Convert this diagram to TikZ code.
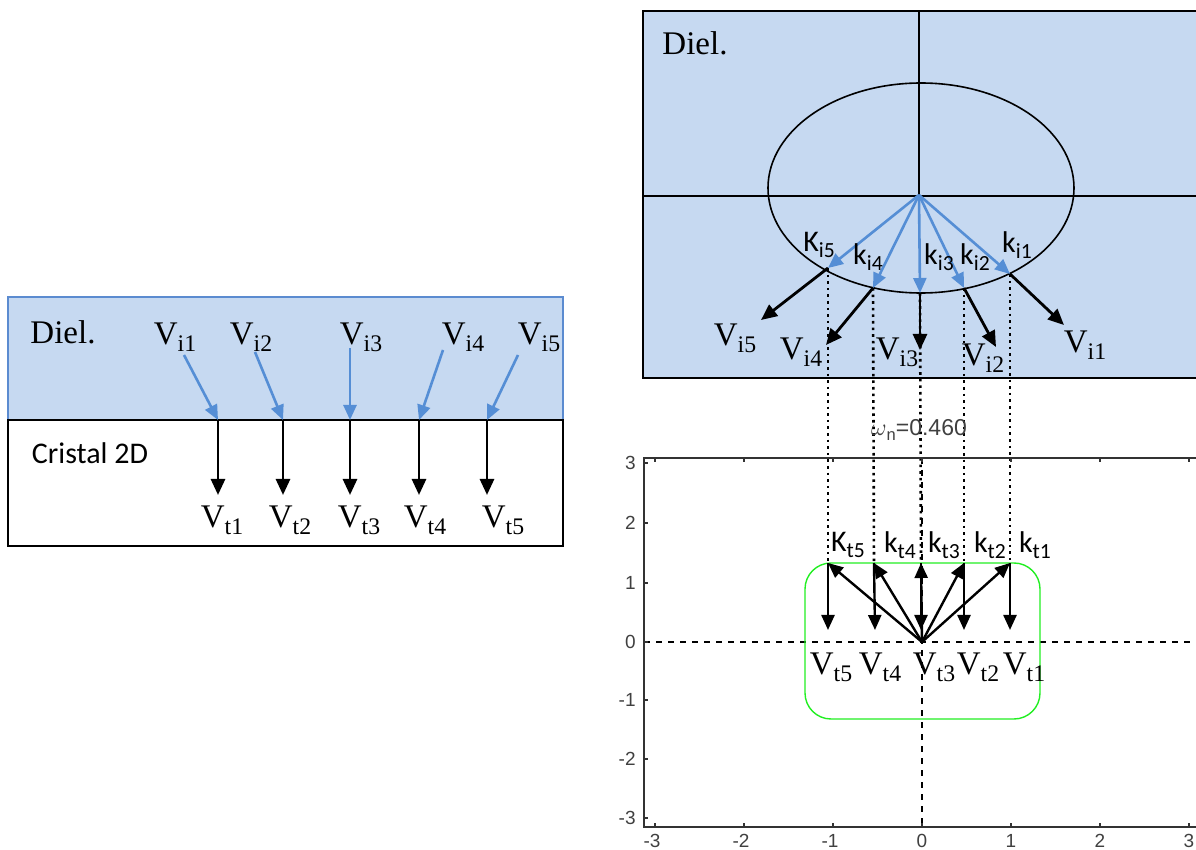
\documentclass[tikz,border=0pt]{standalone}
\usepackage{fontspec}
\setmainfont{Liberation Serif}
\newfontfamily\calibri{Carlito}
\newfontfamily\plotfont{Liberation Sans}
\usetikzlibrary{arrows.meta}
\definecolor{dielfill}{HTML}{C6D9F1}
\definecolor{kblue}{HTML}{558ED5}
\definecolor{dielborder}{HTML}{5B8BD0}
\definecolor{boxgreen}{HTML}{22EE22}
\newcommand\lowsub[1]{\raisebox{-0.45ex}{\scalebox{0.72}{#1}}}

\begin{document}
\begin{tikzpicture}[x=0.5pt, y=-0.5pt,
  vlabel/.style={font=\fontsize{16.5}{18}\selectfont, inner sep=0pt},
  klabel/.style={font=\calibri\fontsize{15}{16}\selectfont, inner sep=0pt},
  ticklabel/.style={font=\plotfont\fontsize{9.5}{10}\selectfont, text=black!75, inner sep=0pt},
  vline/.style={-{Triangle[length=8pt,width=7pt]}, line width=1.4pt},
  kline/.style={-{Triangle[length=7.5pt,width=6.5pt]}, line width=1.3pt, kblue},
  ktline/.style={-{Triangle[length=7.5pt,width=6.5pt]}, line width=1.2pt},
  proj/.style={dotted, line width=1.3pt},
  axisline/.style={dashed, line width=0.6pt},
  frame/.style={line width=0.8pt}
]
\useasboundingbox (0,0) rectangle (1196,850);

% Interface dielectrique / cristal 2D
\draw[fill=dielfill, draw=dielborder, line width=0.9pt] (8,297) rectangle (563,420);
\draw[frame] (8,420) rectangle (563,546);
\node[vlabel] (dielA) at (63,332) {Diel.};
\node[klabel] (cristal) at (90,453) {Cristal 2D};

\node[vlabel] (vi1A) at (175,337) {V\lowsub{i1}};
\node[vlabel] (vi2A) at (251,337) {V\lowsub{i2}};
\node[vlabel] (vi3A) at (361,337) {V\lowsub{i3}};
\node[vlabel] (vi4A) at (463,337) {V\lowsub{i4}};
\node[vlabel] (vi5A) at (539,337) {V\lowsub{i5}};

\coordinate (a1) at (184,355); \coordinate (b1) at (218,420); \coordinate (c1) at (218,495);
\coordinate (a2) at (255,352); \coordinate (b2) at (283,420); \coordinate (c2) at (283,495);
\coordinate (a3) at (350,348); \coordinate (b3) at (350,420); \coordinate (c3) at (350,495);
\coordinate (a4) at (443,350); \coordinate (b4) at (419,420); \coordinate (c4) at (419,495);
\coordinate (a5) at (518,355); \coordinate (b5) at (487,420); \coordinate (c5) at (487,495);

\draw[kline] (a1) -- (b1);
\draw[kline] (a2) -- (b2);
\draw[kline] (a3) -- (b3);
\draw[kline] (a4) -- (b4);
\draw[kline] (a5) -- (b5);
\draw[vline] (b1) -- (c1);
\draw[vline] (b2) -- (c2);
\draw[vline] (b3) -- (c3);
\draw[vline] (b4) -- (c4);
\draw[vline] (b5) -- (c5);

\node[vlabel] (vt1A) at (222,520) {V\lowsub{t1}};
\node[vlabel] (vt2A) at (290,520) {V\lowsub{t2}};
\node[vlabel] (vt3A) at (359,520) {V\lowsub{t3}};
\node[vlabel] (vt4A) at (425,520) {V\lowsub{t4}};
\node[vlabel] (vt5A) at (503,520) {V\lowsub{t5}};

% Surface isofrequence du dielectrique
\draw[fill=dielfill, frame] (643,11) rectangle (1200,378);
\draw[frame] (919,11) -- (919,196);
\draw[frame] (643,196) -- (1200,196);
\draw[frame] (921,188) ellipse [x radius=76.5pt, y radius=52.5pt];
\node[vlabel] (dielB) at (695,43) {Diel.};

\coordinate (O) at (919,195);
\coordinate (p1) at (1010,274); \coordinate (q1) at (1064,325);
\coordinate (p2) at (964,288);  \coordinate (q2) at (996,347);
\coordinate (p3) at (920,293);  \coordinate (q3) at (920,350);
\coordinate (p4) at (873,288);  \coordinate (q4) at (826,345);
\coordinate (p5) at (828,268);  \coordinate (q5) at (761,320);

% Surface isofrequence du cristal
\coordinate (P) at (922,642);
\coordinate (r1) at (1010,563); \coordinate (s1) at (1010,630);
\coordinate (r2) at (964,563);  \coordinate (s2) at (964,630);
\coordinate (r3) at (921,563);  \coordinate (s3) at (921,630);
\coordinate (r4) at (874,563);  \coordinate (s4) at (875,630);
\coordinate (r5) at (828,563);  \coordinate (s5) at (828,630);

% projections
\draw[proj] (p1) -- (r1);
\draw[proj] (p2) -- (r2);
\draw[proj] (p3) -- (r3);
\draw[proj] (p4) -- (r4);
\draw[proj] (p5) -- (r5);

\draw[vline] (p1) -- (q1);
\draw[vline] (p2) -- (q2);
\draw[vline] (p3) -- (q3);
\draw[vline] (p4) -- (q4);
\draw[vline] (p5) -- (q5);
\draw[kline] (O) -- (p1);
\draw[kline] (O) -- (p2);
\draw[kline] (O) -- (p3);
\draw[kline] (O) -- (p4);
\draw[kline] (O) -- (p5);

\node[klabel] (ki1) at (1017,245) {k\lowsub{i1}};
\node[klabel] (ki2) at (975,257) {k\lowsub{i2}};
\node[klabel] (ki3) at (939,257) {k\lowsub{i3}};
\node[klabel] (ki4) at (868,257) {k\lowsub{i4}};
\node[klabel] (ki5) at (819,245) {K\lowsub{i5}};

\node[vlabel] (vi1B) at (1085,345) {V\lowsub{i1}};
\node[vlabel] (vi2B) at (983,358) {V\lowsub{i2}};
\node[vlabel] (vi3B) at (897,352) {V\lowsub{i3}};
\node[vlabel] (vi4B) at (801,352) {V\lowsub{i4}};
\node[vlabel] (vi5B) at (735,338) {V\lowsub{i5}};

% axes du trace
\draw[frame, black!80] (1198,458) -- (644,458) -- (644,827) -- (1198,827);
\draw[axisline] (644,642) -- (1198,642);
\draw[axisline] (922,458) -- (922,827);
\draw[frame, black!80]
  (655,827) -- ++(0,-4) (744,827) -- ++(0,-4) (833,827) -- ++(0,-4) (922,827) -- ++(0,-4)
  (1011,827) -- ++(0,-4) (1100,827) -- ++(0,-4) (1189,827) -- ++(0,-4)
  (655,458) -- ++(0,4) (744,458) -- ++(0,4) (833,458) -- ++(0,4) (922,458) -- ++(0,4)
  (1011,458) -- ++(0,4) (1100,458) -- ++(0,4) (1189,458) -- ++(0,4)
  (644,463) -- ++(4,0) (644,523) -- ++(4,0) (644,583) -- ++(4,0) (644,642) -- ++(4,0)
  (644,700) -- ++(4,0) (644,759) -- ++(4,0) (644,818) -- ++(4,0);

\node[ticklabel, anchor=east] (y3) at (636,463) {3};
\node[ticklabel, anchor=east] (y2) at (636,523) {2};
\node[ticklabel, anchor=east] (y1) at (636,583) {1};
\node[ticklabel, anchor=east] (y0) at (636,642) {0};
\node[ticklabel, anchor=east] (ym1) at (636,700) {-1};
\node[ticklabel, anchor=east] (ym2) at (636,759) {-2};
\node[ticklabel, anchor=east] (ym3) at (636,818) {-3};
\node[ticklabel] (xm3) at (652,841) {-3};
\node[ticklabel] (xm2) at (741,841) {-2};
\node[ticklabel] (xm1) at (830,841) {-1};
\node[ticklabel] (x0) at (922,841) {0};
\node[ticklabel] (x1) at (1011,841) {1};
\node[ticklabel] (x2) at (1100,841) {2};
\node[ticklabel] (x3) at (1189,841) {3};
\node[ticklabel, font=\plotfont\fontsize{11.5}{12}\selectfont] (omega) at (919,430) {$\omega$\lowsub{n}=0.460};

\draw[boxgreen, line width=0.7pt, rounded corners=13pt] (805,563) rectangle (1040,719);

\draw[ktline] (P) -- (r1);
\draw[ktline] (P) -- (r2);
\draw[ktline] (P) -- (r3);
\draw[ktline] (P) -- (r4);
\draw[ktline] (P) -- (r5);
\draw[ktline] (r1) -- (s1);
\draw[ktline] (r2) -- (s2);
\draw[ktline] (r3) -- (s3);
\draw[ktline] (r4) -- (s4);
\draw[ktline] (r5) -- (s5);

\node[klabel] (kt1) at (1035,545) {k\lowsub{t1}};
\node[klabel] (kt2) at (990,545) {k\lowsub{t2}};
\node[klabel] (kt3) at (944,545) {k\lowsub{t3}};
\node[klabel] (kt4) at (900,545) {k\lowsub{t4}};
\node[klabel] (kt5) at (848,545) {K\lowsub{t5}};

\node[vlabel] (vt1B) at (1024,667) {V\lowsub{t1}};
\node[vlabel] (vt2B) at (978,667) {V\lowsub{t2}};
\node[vlabel] (vt3B) at (934,667) {V\lowsub{t3}};
\node[vlabel] (vt4B) at (880,667) {V\lowsub{t4}};
\node[vlabel] (vt5B) at (831,667) {V\lowsub{t5}};
\end{tikzpicture}
\end{document}
